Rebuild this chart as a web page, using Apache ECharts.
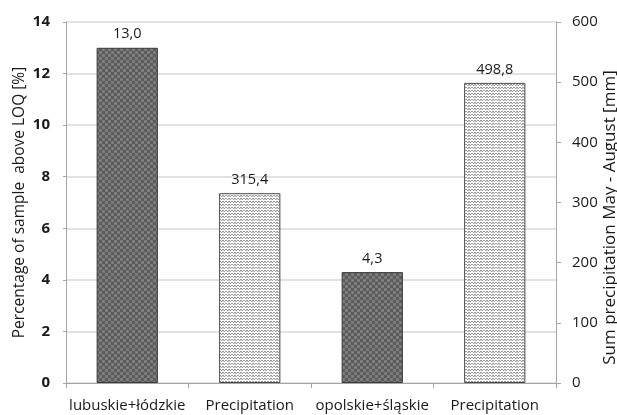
<!DOCTYPE html>
<html><head><meta charset="utf-8">
<script src="https://cdn.jsdelivr.net/npm/echarts@6/dist/echarts.min.js"></script>
<style>html,body{margin:0;padding:0;background:#fff}#c{width:617px;height:415px}</style>
</head><body><div id="c"></div>
<script>
const categories = ['lubuskie+łódzkie', 'Precipitation', 'opolskie+śląskie', 'Precipitation'];
const percentValues = [13.0, '-', 4.3, '-'];
const precipValues = ['-', 315.4, '-', 498.8];
const leftTicks = {min: 0, max: 14, interval: 2};
const rightTicks = {min: 0, max: 600, interval: 100};

function darkPattern() {
  const c = document.createElement('canvas'); c.width = 6; c.height = 6;
  const g = c.getContext('2d');
  g.fillStyle = '#5c5c5c'; g.fillRect(0, 0, 6, 6);
  g.fillStyle = '#7a7a7a'; g.fillRect(0, 0, 3, 3); g.fillRect(3, 3, 3, 3);
  g.fillStyle = '#8a8a8a'; g.fillRect(1, 1, 1, 1); g.fillRect(4, 4, 1, 1);
  return c;
}
function lightPattern() {
  const c = document.createElement('canvas'); c.width = 6; c.height = 3;
  const g = c.getContext('2d');
  g.fillStyle = '#ffffff'; g.fillRect(0, 0, 6, 3);
  g.fillStyle = '#9a9a9a';
  g.fillRect(0, 0, 2, 1); g.fillRect(2, 1, 1, 1); g.fillRect(3, 0, 2, 1); g.fillRect(5, 1, 1, 1);
  g.fillStyle = '#d0d0d0'; g.fillRect(0, 1, 2, 1);
  return c;
}
const fmt = p => p.value.toFixed(1).replace('.', ',');
const font = 'Open Sans';
const txt = '#1a1a1a';
const chart = echarts.init(document.getElementById('c'));
chart.setOption({
  animation: false,
  textStyle: {fontFamily: font},
  grid: {left: 66, right: 61, top: 22, bottom: 32, containLabel: false, outerBoundsMode: 'none'},
  xAxis: {
    type: 'category', data: categories,
    axisLine: {lineStyle: {color: '#a6a6a6', width: 1}},
    axisTick: {show: true, length: 5, lineStyle: {color: '#a6a6a6'}},
    axisLabel: {color: txt, fontSize: 15, margin: 15, interval: 0, fontFamily: font}
  },
  yAxis: [{
    type: 'value', min: leftTicks.min, max: leftTicks.max, interval: leftTicks.interval,
    name: 'Percentage of sample  above LOQ [%]', nameLocation: 'middle', nameGap: 38, nameMoveOverlap: false,
    nameTextStyle: {color: txt, fontSize: 15.5, fontFamily: font},
    axisLine: {show: true, lineStyle: {color: '#a6a6a6'}},
    axisTick: {show: true, length: 3, lineStyle: {color: '#a6a6a6'}},
    axisLabel: {color: txt, fontSize: 15, fontWeight: 'bold', margin: 16, fontFamily: font},
    splitLine: {lineStyle: {color: '#d9d9d9', width: 1.5}}
  }, {
    type: 'value', min: rightTicks.min, max: rightTicks.max, interval: rightTicks.interval,
    name: 'Sum precipitation May - August [mm]', nameLocation: 'middle', nameGap: 46, nameMoveOverlap: false,
    nameTextStyle: {color: txt, fontSize: 17, fontFamily: font, padding: [0, 30, 0, 0]},
    axisLine: {show: true, lineStyle: {color: '#a6a6a6'}},
    axisTick: {show: true, length: 5, lineStyle: {color: '#a6a6a6'}},
    axisLabel: {color: txt, fontSize: 15, margin: 16, fontFamily: font},
    splitLine: {show: false}
  }],
  series: [{
    type: 'bar', yAxisIndex: 0, data: percentValues, barWidth: '50%', barGap: '-100%',
    itemStyle: {color: {image: darkPattern(), repeat: 'repeat'}, borderColor: '#3a3a3a', borderWidth: 1},
    label: {show: true, position: 'top', formatter: fmt, color: txt, fontSize: 14.5, distance: 6, fontFamily: font}
  }, {
    type: 'bar', yAxisIndex: 1, data: precipValues, barWidth: '50%', barGap: '-100%',
    itemStyle: {color: {image: lightPattern(), repeat: 'repeat'}, borderColor: '#4a4a4a', borderWidth: 1},
    label: {show: true, position: 'top', formatter: fmt, color: txt, fontSize: 14.5, distance: 6, fontFamily: font}
  }]
});
</script></body></html>
